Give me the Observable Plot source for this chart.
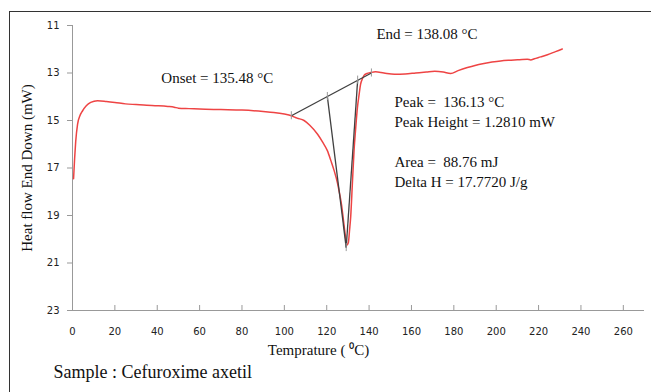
<!DOCTYPE html>
<html><head><meta charset="utf-8">
<script src="https://cdn.jsdelivr.net/npm/d3@7"></script>
<script src="https://cdn.jsdelivr.net/npm/@observablehq/plot@0.6"></script>
<style>
html,body{margin:0;padding:0;background:#fff;}
#wrap{position:relative;width:651px;height:392px;overflow:hidden;background:#fff;}
#chart{position:absolute;left:0;top:0;}
#frame{position:absolute;left:9px;top:11px;width:700px;height:400px;border:1px solid #333;box-sizing:border-box;pointer-events:none;z-index:2;}
</style></head><body>
<div id="wrap"><div id="chart"></div><div id="frame"></div></div>
<script>
// DSC curve: temperature (°C) and heat flow (mW)
const temperature = [0.5,1.0,1.5,2.4,3.5,4.7,6.5,8.6,11.8,16,20,25,30,35,40,45,48,50,55,60,70,80,90,95,100,103.3,106,109.3,112,115.6,118,120.3,122,123.5,125,125.8,127,127.9,128.8,129.5,130.2,130.8,131.3,132.1,132.9,133.7,134.5,135.3,136,136.8,137.6,139,140.8,143,147,152,157,162,167,171,175,178.5,182,186.4,190,194.2,198,202.1,207,211,214.7,216.3,218,221,224.2,228,231.2];
const heatFlow = [17.45,16.6,15.9,15.15,14.8,14.6,14.38,14.24,14.17,14.2,14.24,14.3,14.33,14.36,14.38,14.41,14.44,14.48,14.5,14.52,14.54,14.56,14.62,14.66,14.73,14.8,14.9,15.0,15.2,15.57,15.9,16.27,16.7,17.11,17.6,17.95,18.55,19.2,19.85,20.25,20.15,19.6,19.08,17.67,16.27,15.3,14.45,13.9,13.47,13.25,13.1,13.02,12.98,12.95,13.0,13.05,13.04,13.0,12.96,12.93,12.96,13.02,12.9,12.77,12.68,12.6,12.54,12.49,12.46,12.44,12.42,12.45,12.4,12.32,12.23,12.1,11.99];

// Construction points of the peak analysis
const pointNames = ["onset", "leftTop", "rightTop", "end", "apex"];
const pointT = [103.3, 120.3, 134.6, 141.1, 129.2];
const pointV = [14.8, 13.99, 13.3, 13.0, 20.35];

// Tick labels
const xTicks = [0,20,40,60,80,100,120,140,160,180,200,220,240,260];
const yTicks = [11,13,15,17,19,21,23];

// Texts
const onsetLabel = "Onset = 135.48 °C";
const endLabel = "End = 138.08 °C";
const peakLines = ["Peak =\u00a0 136.13 °C", "Peak Height = 1.2810 mW", "", "Area =\u00a0 88.76 mJ", "Delta H = 17.7720 J/g"];
const xTitle = "Temprature ( \u2070C)";
const yTitle = "Heat flow End Down (mW)";
const caption = "Sample : Cefuroxime axetil";

const curve = temperature.map((T, i) => ({T, v: heatFlow[i]}));
const pts = Object.fromEntries(pointNames.map((n, i) => [n, {T: pointT[i], v: pointV[i]}]));
const segments = [
  {a: pts.onset, b: pts.end},
  {a: pts.leftTop, b: pts.apex},
  {a: pts.rightTop, b: pts.apex}
];
const serif = "Liberation Serif, Times New Roman, serif";

const chart = Plot.plot({
  width: 651,
  height: 392,
  marginLeft: 72,
  marginRight: 7,
  marginTop: 25,
  marginBottom: 82,
  style: {fontFamily: "DejaVu Sans, sans-serif", fontSize: "10px", background: "transparent", overflow: "visible"},
  x: {domain: [0, 270]},
  y: {domain: [11, 23], reverse: true},
  marks: [
    Plot.ruleX([0], {stroke: "#999", strokeWidth: 1}),
    Plot.ruleY([23], {stroke: "#999", strokeWidth: 1}),
    Plot.axisY({ticks: yTicks, tickSize: 5, tickPadding: 8, label: null, stroke: "#999", fill: "#222", tickFormat: d => String(d)}),
    Plot.axisY({ticks: [17], tickSize: 0, tickFormat: () => "", label: yTitle, labelAnchor: "center", labelOffset: 51, labelArrow: "none", fontFamily: serif, fontSize: 15, fill: "#111"}),
    Plot.axisX({ticks: xTicks.slice(1), tickSize: 5, dy: -5, label: null, stroke: "#999", tickFormat: () => ""}),
    Plot.axisX({ticks: xTicks, tickSize: 0, tickPadding: 17, label: null, fill: "#222", tickFormat: d => String(d)}),
    Plot.line(curve, {x: "T", y: "v", stroke: "#ee4444", strokeWidth: 1.5, curve: "monotone-x"}),
    Plot.link(segments, {x1: d => d.a.T, y1: d => d.a.v, x2: d => d.b.T, y2: d => d.b.v, stroke: "#404040", strokeWidth: 1.3}),
    Plot.ruleX(pointNames.map(n => pts[n]), {x: "T", y1: d => d.v - 0.17, y2: d => d.v + 0.17, stroke: "#999", strokeWidth: 1}),
    Plot.text([pts.onset], {x: "T", y: "v", text: () => onsetLabel, textAnchor: "start", dx: -130, dy: -38, fontFamily: serif, fontSize: 15, fill: "#111"}),
    Plot.text([pts.end], {x: "T", y: "v", text: () => endLabel, textAnchor: "start", dx: 5, dy: -39, fontFamily: serif, fontSize: 15, fill: "#111"}),
    Plot.text([peakLines.join("\n")], {frameAnchor: "top-left", textAnchor: "start", lineAnchor: "middle", lineHeight: 1.333, dx: 322, dy: 115, fontFamily: serif, fontSize: 15, fill: "#111"}),
    Plot.text([xTitle], {frameAnchor: "bottom", dx: -40, dy: 44, fontFamily: serif, fontSize: 15, fill: "#111"}),
    Plot.text([caption], {frameAnchor: "bottom-left", textAnchor: "start", dx: -19, dy: 67, fontFamily: serif, fontSize: 18, fill: "#111"})
  ]
});
document.getElementById("chart").appendChild(chart);
</script>
</body></html>
